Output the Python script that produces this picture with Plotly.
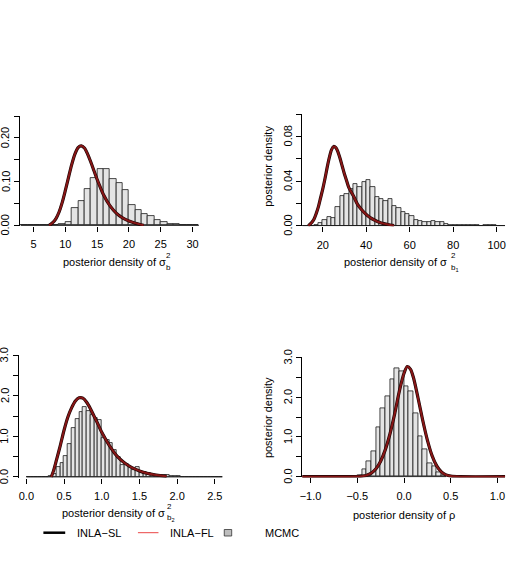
import plotly.graph_objects as go

# ---------------- data ----------------
# Panel 1: sigma_b^2
h1_start, h1_width = 3, 1
h1_heights = [0, 0, 0, 0, 0, 0, 0.002, 0.007, 0.039, 0.055, 0.084, 0.109, 0.13, 0.128,
              0.105, 0.096, 0.081, 0.047, 0.034, 0.026, 0.022, 0.013, 0.007, 0.003, 0.003,
              0.001, 0.001, 0.0005]
c1_x = [7.45, 8, 8.5, 9, 9.5, 10, 10.5, 11, 11.5, 12, 12.5, 13, 13.5, 14, 14.5, 15, 15.5,
        16, 17, 18, 19, 20, 21, 22.3]
c1_y = [0, 0.006, 0.015, 0.03, 0.052, 0.08, 0.11, 0.139, 0.163, 0.178, 0.182, 0.177, 0.163,
        0.145, 0.125, 0.105, 0.087, 0.07, 0.045, 0.028, 0.017, 0.01, 0.005, 0.0]

# Panel 2: sigma_b1^2
h2_start, h2_width = 10, 2
h2_heights = [0, 0, 0, 0.0005, 0.002, 0.005, 0.008, 0.007, 0.017, 0.027, 0.028, 0.033, 0.037,
              0.035, 0.039, 0.041, 0.035, 0.026, 0.024, 0.022, 0.024, 0.018, 0.016, 0.0125,
              0.0105, 0.0084, 0.0055, 0.0045, 0.0032, 0.0035, 0.0045, 0.003, 0.003, 0.0015,
              0.001, 0.001, 0.0008, 0.0005, 0.0007, 0.0005, 0.0002, 0, 0.0003, 0.0005,
              0.0002, 0, 0]
c2_x = [13.3, 14, 15, 16, 17, 18, 19, 20, 21, 22, 23, 24, 25, 26, 27, 28, 29, 30, 31, 32,
        34, 36, 38, 40, 42, 44, 46, 48, 50, 52.8]
c2_y = [0, 0.001, 0.003, 0.006, 0.011, 0.017, 0.025, 0.033, 0.042, 0.052, 0.061, 0.068,
        0.071, 0.07, 0.066, 0.06, 0.053, 0.046, 0.04, 0.034, 0.027, 0.019, 0.014, 0.01,
        0.007, 0.0048, 0.003, 0.0018, 0.001, 0.0]

# Panel 3: sigma_b2^2
h3_start, h3_width = 0.0, 0.05
h3_heights = [0, 0, 0, 0, 0, 0, 0.02, 0.08, 0.25, 0.35, 0.52, 0.82, 1.2, 1.42, 1.6, 1.72,
              1.63, 1.53, 1.45, 1.40, 0.97, 0.9, 0.84, 0.67, 0.5, 0.3, 0.33, 0.24, 0.17,
              0.25, 0.13, 0.12, 0.09, 0.065, 0.04, 0.03, 0.05, 0.04, 0.03, 0.02, 0.015,
              0.01, 0.008, 0.01, 0.005, 0.008, 0.004, 0.005, 0.003, 0.004, 0.002, 0.003]
c3_x = [0.33, 0.36, 0.4, 0.45, 0.5, 0.55, 0.6, 0.65, 0.7, 0.75, 0.8, 0.85, 0.9, 0.95, 1.0,
        1.1, 1.2, 1.3, 1.4, 1.5, 1.6, 1.7, 1.8, 1.86]
c3_y = [0, 0.15, 0.42, 0.77, 1.15, 1.47, 1.7, 1.87, 1.95, 1.94, 1.84, 1.68, 1.49, 1.3, 1.1,
        0.78, 0.52, 0.35, 0.23, 0.15, 0.09, 0.055, 0.03, 0.02]

# Panel 4: rho
h4_start, h4_width = -0.5, 0.05
h4_heights = [0.04, 0.18, 0.39, 0.64, 1.25, 1.72, 2.02, 2.45, 2.72, 2.64, 2.27, 2.14, 1.6,
              1.02, 0.68, 0.33, 0.27, 0.1, 0.03]
c4_x = [-1.1, -0.6, -0.5, -0.45, -0.4, -0.35, -0.3, -0.25, -0.2, -0.15, -0.1, -0.05, 0.0,
        0.035, 0.07, 0.1, 0.15, 0.2, 0.25, 0.3, 0.35, 0.4, 0.45, 0.5, 0.6, 1.1]
c4_y = [0, 0, 0.003, 0.012, 0.035, 0.09, 0.2, 0.39, 0.68, 1.08, 1.58, 2.15, 2.6, 2.77, 2.7,
        2.5, 1.98, 1.42, 0.92, 0.53, 0.27, 0.12, 0.045, 0.015, 0.0, 0]

x1_ticks = [5, 10, 15, 20, 25, 30]
x2_ticks = [20, 40, 60, 80, 100]
x3_ticks = [0.0, 0.5, 1.0, 1.5, 2.0, 2.5]
x4_ticks = [-1.0, -0.5, 0.0, 0.5, 1.0]
x3_labels = ["0.0", "0.5", "1.0", "1.5", "2.0", "2.5"]
x4_labels = ["\u22121.0", "\u22120.5", "0.0", "0.5", "1.0"]
y1_ticks = [0, 0.05, 0.10, 0.15, 0.20, 0.25]
y1_labels = ["0.00", "", "0.10", "", "0.20", ""]
y2_ticks = [0, 0.02, 0.04, 0.06, 0.08, 0.10]
y2_labels = ["0.00", "", "0.04", "", "0.08", ""]
y34_ticks = [0, 0.5, 1.0, 1.5, 2.0, 2.5, 3.0]
y34_labels = ["0.0", "", "1.0", "", "2.0", "", "3.0"]

legend_labels = ["INLA\u2212SL", "INLA\u2212FL", "MCMC"]

# ---------------- layout helpers ----------------
W, H = 511, 561
FONT = "Liberation Sans, Arial, Helvetica, sans-serif"
FILL = "#e4e4e4"
CURVE_RED = "rgb(135,22,22)"
LEGEND_RED = "rgb(235,70,70)"


def fx(px):
    return px / W


def fy(py):
    return 1 - py / H


panels = [
    (h1_heights, h1_start, h1_width, c1_x, c1_y, (16.7, 200), (226, 116), (2.80, 31.40), 0.25,
     x1_ticks, [str(v) for v in x1_ticks], y1_ticks, y1_labels),
    (h2_heights, h2_start, h2_width, c2_x, c2_y, (301.7, 506), (226.3, 114), (10.59, 103.88), 0.10,
     x2_ticks, [str(v) for v in x2_ticks], y2_ticks, y2_labels),
    (h3_heights, h3_start, h3_width, c3_x, c3_y, (15.7, 222), (477.7, 355), (-0.103, 2.612), 3.0,
     x3_ticks, x3_labels, y34_ticks, y34_labels),
    (h4_heights, h4_start, h4_width, c4_x, c4_y, (301.7, 506), (477.4, 357.3), (-1.088, 1.081), 3.0,
     x4_ticks, x4_labels, y34_ticks, y34_labels),
]

annotations = []


def ann(text, px, py, size=11, xanchor="center", angle=0):
    annotations.append(dict(text=text, x=fx(px), y=fy(py), xref="paper", yref="paper",
                            showarrow=False, xanchor=xanchor, yanchor="middle", textangle=angle,
                            font=dict(size=size, color="black", family=FONT)))


fig = go.Figure()
layout_axes = {}
for i, (hh, hs, hw, cx, cy, xd, yd, xr, ymax, xt, xtl, yt, ytl) in enumerate(panels, start=1):
    sx = "" if i == 1 else str(i)
    xa, ya = "x" + sx, "y" + sx
    edges = [hs + k * hw for k in range(len(hh) + 1)]
    centers = [hs + (k + 0.5) * hw for k in range(len(hh))]
    fig.add_trace(go.Bar(x=centers, y=hh, width=hw, xaxis=xa, yaxis=ya,
                         marker=dict(color=FILL, line=dict(color="#1a1a1a", width=0.8)),
                         showlegend=False, hoverinfo="skip"))
    fig.add_trace(go.Scatter(x=[edges[0], edges[-1]], y=[0, 0], mode="lines", xaxis=xa, yaxis=ya,
                             line=dict(color="#1a1a1a", width=1), showlegend=False, hoverinfo="skip"))
    fig.add_trace(go.Scatter(x=cx, y=cy, mode="lines", xaxis=xa, yaxis=ya,
                             line=dict(color="#1a0505", width=3.2, shape="spline", smoothing=0.8),
                             showlegend=False))
    fig.add_trace(go.Scatter(x=cx, y=cy, mode="lines", xaxis=xa, yaxis=ya,
                             line=dict(color=CURVE_RED, width=2.0, shape="spline", smoothing=0.8),
                             showlegend=False))
    layout_axes["xaxis" + sx] = dict(
        domain=[fx(xd[0]), fx(xd[1])], range=list(xr), anchor=ya, showline=False,
        showgrid=False, zeroline=False, ticks="outside", ticklen=5, tickwidth=1,
        tickcolor="black", tickvals=xt, ticktext=xtl, tickfont=dict(size=11, color="black"),
        ticklabelstandoff=3)
    layout_axes["yaxis" + sx] = dict(
        domain=[fy(yd[0]), fy(yd[1])], range=[-ymax * 0.006, ymax * 1.001], anchor=xa,
        showline=True, linecolor="black", linewidth=1, showgrid=False, zeroline=False,
        ticks="outside", ticklen=5, tickwidth=1, tickcolor="black", tickvals=yt,
        showticklabels=False)
    # y tick labels, rotated, placed on the y axis scale
    for v, t in zip(yt, ytl):
        if t:
            annotations.append(dict(text=t, x=fx(xd[0] - 14.4), y=v, xref="paper", yref=ya,
                                    showarrow=False, xanchor="center", yanchor="middle",
                                    textangle=-90,
                                    font=dict(size=11, color="black", family=FONT)))

# x-axis titles (stacked super/subscripts)
ann("posterior density of \u03c3", 112.3, 262.3)
ann("2", 167.2, 256, size=8)
ann("b", 167.2, 267.5, size=8)
ann("posterior density of \u03c3", 395.5, 261.7)
ann("2", 454.0, 256, size=8)
ann("b<sub>1</sub>", 455.5, 268, size=8)
ann("posterior density of \u03c3", 111.2, 512.5)
ann("2", 168.3, 506.5, size=8)
ann("b<sub>2</sub>", 169.8, 518, size=8)
ann("posterior density of \u03c1", 403.9, 515.3)
# y-axis titles (right panels)
ann("posterior density", 267.2, 166.7, angle=-90)
ann("posterior density", 266.7, 417.5, angle=-90)
# legend
ann(legend_labels[0], 72.7, 532.7, xanchor="left")
ann(legend_labels[1], 166.7, 532.7, xanchor="left")
ann(legend_labels[2], 261.7, 532.7, xanchor="left")

shapes = [
    dict(type="line", xref="paper", yref="paper", x0=fx(40.7), x1=fx(62.7), y0=fy(532.7),
         y1=fy(532.7), line=dict(color="black", width=2.5)),
    dict(type="line", xref="paper", yref="paper", x0=fx(136), x1=fx(156.7), y0=fy(532.7),
         y1=fy(532.7), line=dict(color=LEGEND_RED, width=1)),
    dict(type="rect", xref="paper", yref="paper", x0=fx(223), x1=fx(230.5), y0=fy(536),
         y1=fy(529.5), fillcolor="#bebebe", line=dict(color="#333333", width=0.8)),
]

fig.update_layout(
    width=W, height=H, margin=dict(l=0, r=0, t=0, b=0),
    paper_bgcolor="white", plot_bgcolor="white",
    font=dict(family=FONT, size=11, color="black"),
    showlegend=False, bargap=0, annotations=annotations, shapes=shapes,
    **layout_axes)

fig.write_html("out.html")
